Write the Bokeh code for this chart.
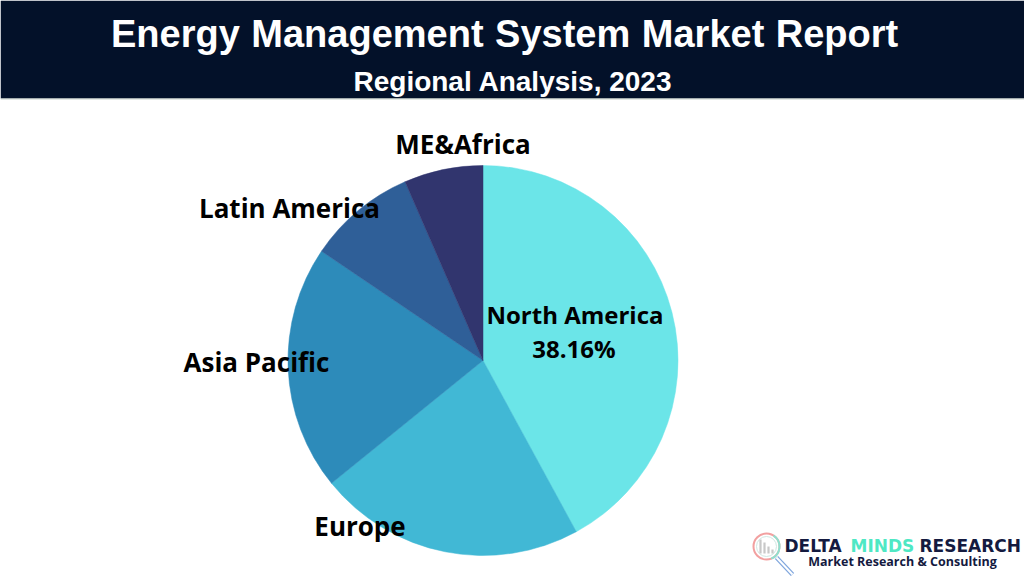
import numpy as np
from bokeh.plotting import figure
from bokeh.models import Range1d, ColumnDataSource
from bokeh.core.properties import value
from bokeh.embed import file_html
from bokeh.resources import INLINE

# ---- data ----
regions = ["North America", "Europe", "Asia Pacific", "Latin America", "ME&Africa"]
shares = [42.06, 22.10, 20.31, 8.99, 6.54]
colors = ["#6BE5E8", "#41B8D5", "#2D8BBA", "#2F5F98", "#31356E"]
na_label = "38.16%"
title_words = ["Energy", "Management", "System", "Market", "Report"]
subtitle = "Regional Analysis, 2023"
brand_words = ["DELTA", "MINDS", "RESEARCH"]
tagline = "Market Research & Consulting"

W, H = 1024, 576
def Y(py):
    return H - py

p = figure(width=W, height=H, output_backend="svg", toolbar_location=None,
           x_range=Range1d(0, W), y_range=Range1d(0, H), min_border=0)
p.axis.visible = False
p.grid.visible = False
p.outline_line_color = None
p.background_fill_color = "white"
p.border_fill_color = "white"

# header band
p.quad(left=0, right=W, bottom=Y(98), top=H, color="#031129", line_color=None)
p.segment(x0=0, x1=W, y0=Y(98.5), y1=Y(98.5), line_color="#c9d3c9", line_width=1)
p.text(x=[110.5, 250.8, 494.6, 641.3, 775.2], y=[Y(33.5)] * 5, text=title_words,
       text_font=value("Liberation Sans"), text_font_style="bold", text_font_size="38px",
       text_color="white", text_align="left", text_baseline="middle")
p.text(x=[512.5], y=[Y(80.5)], text=[subtitle],
       text_font=value("Liberation Sans"), text_font_style="bold", text_font_size="28px",
       text_color="white", text_align="center", text_baseline="middle")

# pie
cx, cy, r = 482.5, Y(360), 195
vals = np.array(shares, dtype=float)
frac = vals / vals.sum()
cum = np.concatenate([[0], np.cumsum(frac)])
start = np.pi / 2 - cum[:-1] * 2 * np.pi
end = np.pi / 2 - cum[1:] * 2 * np.pi
src = ColumnDataSource(dict(start=start, end=end, color=colors, region=regions))
p.wedge(x=cx, y=cy, radius=r, start_angle="start", end_angle="end", direction="clock",
        fill_color="color", line_color="color", line_width=0.5, source=src)

# labels
lab_x = [574.5, 359.5, 256, 289, 462.5]
lab_y = [313.5, 525, 361, 207, 143]
lab_size = ["24px", "26px", "26px", "26px", "26px"]
for lx, ly, t, s in zip(lab_x, lab_y, regions, lab_size):
    p.text(x=[lx], y=[Y(ly)], text=[t], text_font=value("Open Sans"),
           text_font_style="bold", text_font_size=s, text_color="black",
           text_align="center", text_baseline="middle")
p.text(x=[573.5], y=[Y(348)], text=[na_label], text_font=value("Open Sans"),
       text_font_style="bold", text_font_size="24px", text_color="black",
       text_align="center", text_baseline="middle")

# logo
icx, icy = 766, Y(546)
p.segment(x0=[776], y0=[Y(557)], x1=[792], y1=[Y(574)], line_color="#7fa6dd", line_width=4.5)
p.segment(x0=[776], y0=[Y(557)], x1=[792], y1=[Y(574)], line_color="white", line_width=2)
p.circle(x=[icx], y=[icy], radius=13, fill_color="white", line_color="#f2a0a0", line_width=2)
p.arc(x=[icx], y=[icy], radius=13, start_angle=-1.2, end_angle=1.0, line_color="#8fe0cf", line_width=2)
p.circle(x=[icx], y=[icy], radius=10, fill_color=None, line_color="#cfe7e2", line_width=1)
p.vbar(x=[760, 764, 768, 772], bottom=Y(553), top=[Y(539), Y(542), Y(546), Y(549)],
       width=2.2, fill_color="#c8c8c8", line_color=None)
p.text(x=[784, 850, 919], y=[Y(545.5)] * 3, text=brand_words, text_font=value("DejaVu Sans"),
       text_font_style="bold", text_font_size="17px",
       text_color=["#141a3f", "#4ee8c4", "#141a3f"],
       text_align="left", text_baseline="middle")
p.text(x=[902], y=[Y(561)], text=[tagline], text_font=value("Open Sans"),
       text_font_style="bold", text_font_size="12.5px", text_color="#141a3f",
       text_align="center", text_baseline="middle")

open("out.html", "w").write(file_html(p, INLINE))
